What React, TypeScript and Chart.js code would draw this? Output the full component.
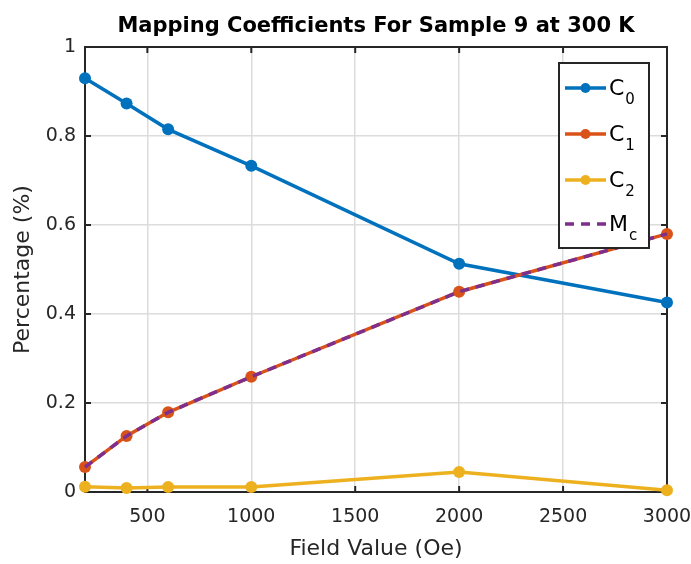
import React, { useEffect, useRef } from "react";
import { Chart, registerables } from "chart.js";

Chart.register(...registerables);

const chartTitle = "Mapping Coefficients For Sample 9 at 300 K";
const xAxisTitle = "Field Value (Oe)";
const yAxisTitle = "Percentage (%)";

const fieldValues = [200, 400, 600, 1000, 2000, 3000];
const c0Values = [0.93, 0.873, 0.815, 0.733, 0.513, 0.426];
const c1Values = [0.056, 0.126, 0.179, 0.259, 0.45, 0.58];
const c2Values = [0.012, 0.009, 0.011, 0.011, 0.045, 0.004];
const mcValues = [0.056, 0.126, 0.179, 0.259, 0.45, 0.58];

const xTicks = [500, 1000, 1500, 2000, 2500, 3000];
const yTicks = [0, 0.2, 0.4, 0.6, 0.8, 1];

const legendMain = ["C", "C", "C", "M"];
const legendSub = ["0", "1", "2", "c"];

const colors = ["#0072BD", "#D95319", "#EDB120", "#7E2F8E"];
const FONT = '"DejaVu Sans", "Liberation Sans", Arial, sans-serif';
const AXIS_COLOR = "#262626";

const toPoints = (ys: number[]) => fieldValues.map((x, i) => ({ x, y: ys[i] }));

const framePlugin = {
  id: "frame",
  beforeDatasetsDraw(chart: any) {
    const { ctx, chartArea: a, scales } = chart;
    ctx.save();
    ctx.strokeStyle = AXIS_COLOR;
    ctx.lineWidth = 2;
    ctx.strokeRect(a.left, a.top, a.right - a.left, a.bottom - a.top);
    const len = 6;
    ctx.beginPath();
    xTicks.forEach((v) => {
      const px = scales.x.getPixelForValue(v);
      ctx.moveTo(px, a.bottom);
      ctx.lineTo(px, a.bottom - len);
      ctx.moveTo(px, a.top);
      ctx.lineTo(px, a.top + len);
    });
    yTicks.forEach((v) => {
      const py = scales.y.getPixelForValue(v);
      ctx.moveTo(a.left, py);
      ctx.lineTo(a.left + len, py);
      ctx.moveTo(a.right, py);
      ctx.lineTo(a.right - len, py);
    });
    ctx.stroke();
    ctx.restore();
  },
};

const overlayPlugin = {
  id: "overlay",
  afterDraw(chart: any) {
    const { ctx, chartArea: a } = chart;
    ctx.save();
    // title
    ctx.fillStyle = "#000";
    ctx.font = `bold 21px ${FONT}`;
    ctx.textAlign = "center";
    ctx.textBaseline = "middle";
    ctx.fillText(chartTitle, (a.left + a.right) / 2, 27);

    // legend box
    const bx = 559, by = 63, bw = 90, bh = 185;
    ctx.fillStyle = "#fff";
    ctx.fillRect(bx, by, bw, bh);
    ctx.strokeStyle = AXIS_COLOR;
    ctx.lineWidth = 2;
    ctx.strokeRect(bx, by, bw, bh);

    const rowY = [88, 134, 180, 224];
    for (let i = 0; i < 4; i++) {
      const y = rowY[i];
      ctx.strokeStyle = colors[i];
      ctx.lineWidth = 3.5;
      ctx.beginPath();
      if (i === 3) ctx.setLineDash([9, 7]);
      else ctx.setLineDash([]);
      ctx.moveTo(565, y);
      ctx.lineTo(606, y);
      ctx.stroke();
      ctx.setLineDash([]);
      if (i < 3) {
        ctx.fillStyle = colors[i];
        ctx.beginPath();
        ctx.arc(585.5, y, 5, 0, Math.PI * 2);
        ctx.fill();
      }
      ctx.fillStyle = "#000";
      ctx.textAlign = "left";
      ctx.textBaseline = "alphabetic";
      ctx.font = `22px ${FONT}`;
      const base = y + 7;
      ctx.fillText(legendMain[i], 609, base);
      const w = ctx.measureText(legendMain[i]).width;
      ctx.font = `15px ${FONT}`;
      ctx.fillText(legendSub[i], 609 + w + 1, base + 9);
    }
    ctx.restore();
  },
};

function ChartView() {
  const canvasRef = useRef<HTMLCanvasElement | null>(null);

  useEffect(() => {
    const canvas = canvasRef.current;
    if (!canvas) return;
    const mk = (label: string, data: number[], color: string, extra: any = {}) => ({
      label,
      data: toPoints(data),
      borderColor: color,
      backgroundColor: color,
      borderWidth: 3.5,
      pointRadius: 6,
      pointBorderWidth: 0,
      pointBackgroundColor: color,
      tension: 0,
      clip: false,
      ...extra,
    });
    const chart = new Chart(canvas, {
      type: "line",
      data: {
        datasets: [
          mk("C0", c0Values, colors[0], { order: 3 }),
          mk("C1", c1Values, colors[1], { order: 2 }),
          mk("C2", c2Values, colors[2], { order: 1 }),
          mk("Mc", mcValues, colors[3], { pointRadius: 0, borderDash: [9, 7], order: 0 }),
        ],
      },
      options: {
        responsive: false,
        animation: false,
        devicePixelRatio: 1,
        layout: { padding: { left: 0, right: 24, top: 47, bottom: 0 } },
        plugins: {
          legend: { display: false },
          tooltip: { enabled: false },
          title: { display: false },
        },
        scales: {
          x: {
            type: "linear",
            min: 200,
            max: 3000,
            afterBuildTicks: (scale: any) => {
              scale.ticks = xTicks.map((v) => ({ value: v }));
            },
            afterFit: (scale: any) => {
              scale.height = 72;
              scale.paddingLeft = 0;
              scale.paddingRight = 0;
            },
            grid: { color: "#dcdcdc", lineWidth: 1.5, drawTicks: false },
            border: { display: false },
            ticks: {
              padding: 14,
              maxRotation: 0,
              autoSkip: false,
              color: AXIS_COLOR,
              font: { family: FONT, size: 19 },
              callback: (v: any) => String(v),
            },
            title: {
              display: true,
              text: xAxisTitle,
              color: AXIS_COLOR,
              font: { family: FONT, size: 22 },
              padding: { top: 0, bottom: 2 },
            },
          },
          y: {
            type: "linear",
            min: 0,
            max: 1,
            afterBuildTicks: (scale: any) => {
              scale.ticks = yTicks.map((v) => ({ value: v }));
            },
            afterFit: (scale: any) => {
              scale.width = 85;
              scale.paddingTop = 0;
              scale.paddingBottom = 0;
            },
            grid: { color: "#dcdcdc", lineWidth: 1.5, drawTicks: false },
            border: { display: false },
            ticks: {
              padding: 9,
              autoSkip: false,
              color: AXIS_COLOR,
              font: { family: FONT, size: 19 },
              callback: (v: any) => (v === 0 || v === 1 ? String(v) : Number(v).toFixed(1)),
            },
            title: {
              display: true,
              text: yAxisTitle,
              color: AXIS_COLOR,
              font: { family: FONT, size: 22 },
              padding: { top: 10, bottom: 0 },
            },
          },
        },
      },
      plugins: [framePlugin, overlayPlugin],
    });
    return () => chart.destroy();
  }, []);

  return (
    <div style={{ position: "absolute", left: 0, top: 0, width: 691, height: 564, background: "#fff" }}>
      <canvas ref={canvasRef} width={691} height={564} style={{ display: "block" }} />
    </div>
  );
}

export default function App() {
  return <ChartView />;
}
